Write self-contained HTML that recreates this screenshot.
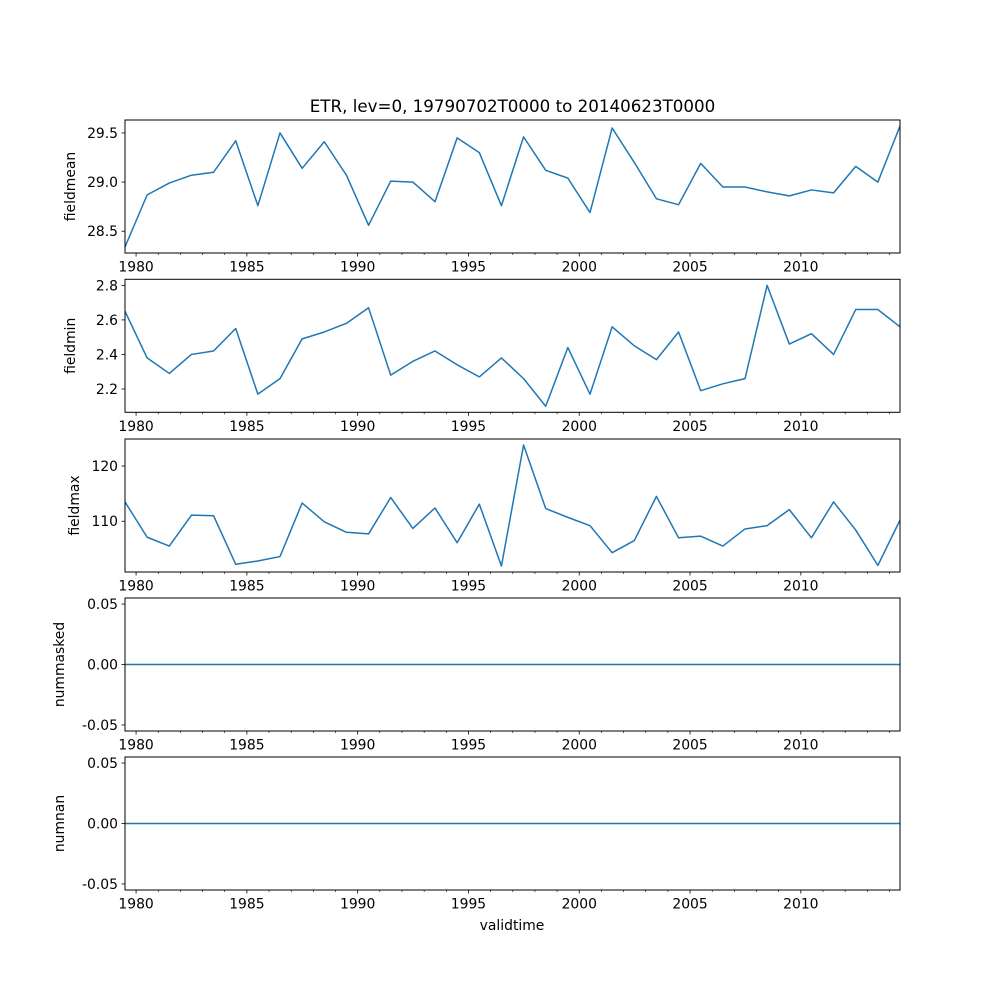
<!DOCTYPE html>
<html><head><meta charset="utf-8"><style>
html,body{margin:0;padding:0;background:#fff;}
svg{display:block;font-family:"DejaVu Sans","Liberation Sans",sans-serif;}
</style></head><body>
<svg id="fig" width="1000" height="1000" viewBox="0 0 1000 1000" xmlns="http://www.w3.org/2000/svg">
<rect width="1000" height="1000" fill="#fff"/>
<text x="512.5" y="112" font-size="16.7" text-anchor="middle" fill="#000">ETR, lev=0, 19790702T0000 to 20140623T0000</text>
<text x="512" y="930" font-size="13.9" text-anchor="middle" fill="#000">validtime</text>
</svg>
<script>
// time in fractional years: first 1979-07-02, last 2014-06-23, annual
const startYear = 1979.5;
const endYear = 2014.475;
const fieldmean = [28.34,28.87,28.99,29.07,29.10,29.42,28.76,29.50,29.14,29.41,29.07,28.56,29.01,29.00,28.80,29.45,29.30,28.76,29.46,29.12,29.04,28.69,29.55,29.20,28.83,28.77,29.19,28.95,28.95,28.90,28.86,28.92,28.89,29.16,29.00,29.57];
const fieldmin = [2.65,2.38,2.29,2.40,2.42,2.55,2.17,2.26,2.49,2.53,2.58,2.67,2.28,2.36,2.42,2.34,2.27,2.38,2.26,2.10,2.44,2.17,2.56,2.45,2.37,2.53,2.19,2.23,2.26,2.80,2.46,2.52,2.40,2.66,2.66,2.56];
const fieldmax = [113.5,107.1,105.5,111.1,111.0,102.2,102.8,103.6,113.3,109.9,108.0,107.7,114.3,108.7,112.4,106.1,113.1,101.9,123.8,112.3,110.7,109.2,104.3,106.5,114.5,107.0,107.3,105.5,108.6,109.2,112.1,107.0,113.5,108.4,102.0,110.2];
const nummasked = [0,0,0,0,0,0,0,0,0,0,0,0,0,0,0,0,0,0,0,0,0,0,0,0,0,0,0,0,0,0,0,0,0,0,0,0];
const numnan = [0,0,0,0,0,0,0,0,0,0,0,0,0,0,0,0,0,0,0,0,0,0,0,0,0,0,0,0,0,0,0,0,0,0,0,0];
const xTickLabels = ["1980","1985","1990","1995","2000","2005","2010"];
const meanTicks = ["28.5","29.0","29.5"];
const minTicks = ["2.2","2.4","2.6","2.8"];
const maxTicks = ["110","120"];
const zeroTicks = ["-0.05","0.00","0.05"];

const NS = "http://www.w3.org/2000/svg";
const svg = document.getElementById('fig');
const L = 125, R = 900;
const panels = [
  {name:"fieldmean", data:fieldmean, ticks:meanTicks, top:120},
  {name:"fieldmin", data:fieldmin, ticks:minTicks, top:279.3},
  {name:"fieldmax", data:fieldmax, ticks:maxTicks, top:439},
  {name:"nummasked", data:nummasked, ticks:zeroTicks, top:598},
  {name:"numnan", data:numnan, ticks:zeroTicks, top:757}
];
const H = 133;
function mk(tag, attrs){const e=document.createElementNS(NS,tag);for(const k in attrs)e.setAttribute(k,attrs[k]);svg.appendChild(e);return e;}
function xScale(t){return L + (t-startYear)/(endYear-startYear)*(R-L);}

panels.forEach((p)=>{
  const top=p.top, bot=top+H;
  let mn=Math.min(...p.data), mx=Math.max(...p.data);
  let lo,hi;
  if(mx===mn){lo=mn-0.055;hi=mx+0.055;}else{const pad=(mx-mn)*0.05;lo=mn-pad;hi=mx+pad;}
  const y=v=>bot-(v-lo)/(hi-lo)*H;
  for(let yr=1980; yr<=2014; yr++){
    const x=xScale(yr);
    const major = yr%5===0;
    const t=mk('line',{x1:x,x2:x,y1:bot,y2:bot+(major?3.5:2),stroke:'#000','stroke-width':major?0.8:0.6});
    
    
  }
  xTickLabels.forEach(s=>{
    const x=xScale(parseFloat(s));
    const tx=mk('text',{x:x,y:bot+18.5,'font-size':13.9,'text-anchor':'middle',fill:'#000'});
    tx.textContent=s;
    
    
  });
  p.ticks.forEach(s=>{
    const yy=y(parseFloat(s));
    const tk=mk('line',{x1:L-3.5,x2:L,y1:yy,y2:yy,stroke:'#000','stroke-width':0.8});
    
    
    const tx=mk('text',{x:L-7,y:yy+5,'font-size':13.9,'text-anchor':'end',fill:'#000'});
    tx.textContent=s;
    
    
  });
  const labX = p.ticks[0].length>=5 ? 64 : (p.ticks[0].length===3 && p.name==="fieldmax" ? 79 : 75);
  const yl=mk('text',{x:labX,y:top+H/2,'font-size':13.9,'text-anchor':'middle',fill:'#000',transform:`rotate(-90 ${labX} ${top+H/2})`});
  yl.textContent=p.name;
  
  
  const pts=p.data.map((v,i)=>{const t=startYear+i*(endYear-startYear)/(p.data.length-1);return xScale(t).toFixed(2)+','+y(v).toFixed(2);}).join(' ');
  const cp=mk('clipPath',{id:'c'+p.name});
  const cr=document.createElementNS(NS,'rect');cr.setAttribute('x',L);cr.setAttribute('y',top);cr.setAttribute('width',R-L);cr.setAttribute('height',H);cp.appendChild(cr);
  const line=mk('polyline',{points:pts,fill:'none',stroke:'#1f77b4','stroke-width':1.5,'stroke-linejoin':'round','clip-path':`url(#c${p.name})`});
  
  
  const fr=mk('rect',{x:L,y:top,width:R-L,height:H,fill:'none',stroke:'#000','stroke-width':1});
  
  
});
</script>
</body></html>
